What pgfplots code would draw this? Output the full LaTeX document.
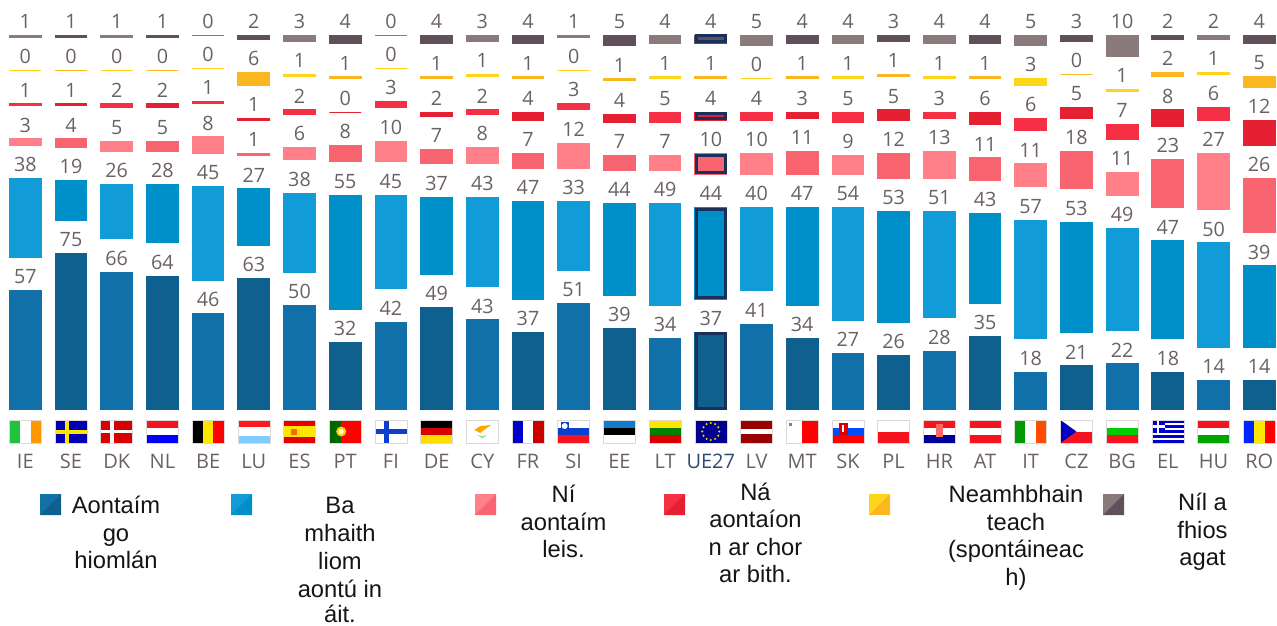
\documentclass[border=0pt]{standalone}
\usepackage{fontspec}
\usepackage{pgfplots}
\usepackage{pgfplotstable}
\pgfplotsset{compat=1.18}
\setmainfont{Open Sans}
\newfontfamily\legfont{Liberation Sans}
\definecolor{navyL}{HTML}{1170A8}\definecolor{navyD}{HTML}{0F5F8F}
\definecolor{blueL}{HTML}{119CD8}\definecolor{blueD}{HTML}{0090C9}
\definecolor{pinkL}{HTML}{FF8088}\definecolor{pinkD}{HTML}{F86570}
\definecolor{redL}{HTML}{F53045}\definecolor{redD}{HTML}{E62033}
\definecolor{yelL}{HTML}{FFD51A}\definecolor{yelD}{HTML}{FBB71F}
\definecolor{greyL}{HTML}{8A7A7C}\definecolor{greyD}{HTML}{5F5059}
\definecolor{ueNavy}{HTML}{1A2F5C}
\definecolor{lab}{HTML}{6B6164}
\definecolor{ueLab}{HTML}{2F4A72}
\definecolor{frame}{HTML}{DDD8D8}
\definecolor{fRed}{HTML}{F5141E}\definecolor{fBlue}{HTML}{0B3FCC}
\definecolor{fGreen}{HTML}{1FC43C}\definecolor{fYel}{HTML}{FFE600}
% light-shaded countries (every other one, starting with IE)
\pgfplotstableread{
x  a  b  c  d  e  f
0  57 38 3  1  0  1
2  66 26 5  2  0  1
4  46 45 8  1  0  0
6  50 38 6  2  1  3
8  42 45 10 3  0  0
10 43 43 8  2  1  3
12 51 33 12 3  0  1
14 34 49 7  5  1  4
16 41 40 10 4  0  5
18 27 54 9  5  1  4
20 28 51 13 3  1  4
22 18 57 11 6  3  5
24 22 49 11 7  1  10
26 14 50 27 6  1  2
}\tblA
% dark-shaded countries (every other one, starting with SE)
\pgfplotstableread{
x  a  b  c  d  e  f
1  75 19 4  1  0  1
3  64 28 5  2  0  1
5  63 27 1  1  6  2
7  32 55 8  0  1  4
9  49 37 7  2  1  4
11 37 47 7  4  1  4
13 39 44 7  4  1  5
15 37 44 10 4  1  4
17 34 47 11 3  1  4
19 26 53 12 5  1  3
21 35 43 11 6  1  4
23 21 53 18 5  0  3
25 18 47 23 8  2  2
27 14 39 26 12 5  4
}\tblB
% EU-27 on its own, for the navy outline
\pgfplotstableread{
x  a  b  c  d  e  f
15 37 44 10 4  1  4
}\tblU
\pgfplotsset{
  base/.style={
    at={(0pt,-307.125pt)},anchor=south west,scale only axis,
    width=957.75pt,height=307.125pt,
    xmin=-0.5536,xmax=27.389,ymin=0,ymax=196.6,
    clip=false,axis line style={draw=none},tick style={draw=none},
    ytick=\empty,ybar stacked,stacked ignores zero=false,bar width=23.8pt,
    /pgf/number format/assume math mode=true,
    nodes near coords style={anchor=south,inner sep=0pt,yshift=4.8pt,text=lab,
      font=\fontsize{14.8}{16}\selectfont},
  },
}
\newcommand\seg[3]{\addplot[fill=#2,draw=#2,line width=0.75pt] table[x=x,y=#3] {#1};
  \addplot[draw=none,fill=none,nodes near coords,point meta=\thisrow{#3}] table[x=x,y expr=0] {#1};}
\newcommand\gap[1]{\addplot[draw=none,fill=none] table[x=x,y expr=15.94] {#1};}
\newcommand\stackall[2]{%
  \seg{#1}{navy#2}{a}\gap{#1}\seg{#1}{blue#2}{b}\gap{#1}\seg{#1}{pink#2}{c}\gap{#1}%
  \seg{#1}{red#2}{d}\gap{#1}\seg{#1}{yel#2}{e}\gap{#1}\seg{#1}{grey#2}{f}}
\newcommand\flag[2]{\begin{scope}[shift={({25.3+45.7*#1-16},420)}]#2\draw[frame,line width=0.4pt] (0,0) rectangle (32,23);\end{scope}}
\newcommand\fV[3]{\fill[#1] (0,0) rectangle (10.67,23);\fill[#2] (10.67,0) rectangle (21.33,23);\fill[#3] (21.33,0) rectangle (32,23);}
\newcommand\fH[3]{\fill[#1] (0,0) rectangle (32,7.67);\fill[#2] (0,7.67) rectangle (32,15.33);\fill[#3] (0,15.33) rectangle (32,23);}
\newcommand\legline[3]{\node[anchor=base,inner sep=0pt,text=black!92,font=\legfont\fontsize{17.8}{20}\selectfont] at (#1,#2) {#3};}
\newcommand\swatch[3]{\fill[#2] (#1,494) rectangle ({#1+21},515);\fill[#3] ({#1+21},494) -- ({#1+21},515) -- (#1,515) -- cycle;}
\begin{document}
\begin{tikzpicture}[x=0.75pt,y=-0.75pt]
\useasboundingbox (0,0) rectangle (1277,625);
\begin{axis}[base,
  xtick={0,...,27},
  xticklabels={IE,SE,DK,NL,BE,LU,ES,PT,FI,DE,CY,FR,SI,EE,LT,\textcolor{ueLab}{UE27},LV,MT,SK,PL,HR,AT,IT,CZ,BG,EL,HU,RO},
  xticklabel style={anchor=base,yshift=-44.2pt,text=lab,font=\fontsize{15}{16}\selectfont},
]
\stackall{\tblA}{L}
\end{axis}
\begin{axis}[base,xtick=\empty]
\stackall{\tblB}{D}
\end{axis}
\begin{axis}[base,xtick=\empty,bar width=22.1pt]
\addplot[draw=none,fill=none] table[x=x,y expr=0.72] {\tblU};
\addplot[draw=ueNavy,fill=none,line width=2.25pt] table[x=x,y expr=\thisrow{a}-1.44] {\tblU};
\addplot[draw=none,fill=none] table[x=x,y expr=17.38] {\tblU};
\addplot[draw=ueNavy,fill=none,line width=2.25pt] table[x=x,y expr=\thisrow{b}-1.44] {\tblU};
\addplot[draw=none,fill=none] table[x=x,y expr=17.38] {\tblU};
\addplot[draw=ueNavy,fill=none,line width=2.25pt] table[x=x,y expr=\thisrow{c}-1.44] {\tblU};
\addplot[draw=none,fill=none] table[x=x,y expr=17.38] {\tblU};
\addplot[draw=ueNavy,fill=none,line width=2.25pt] table[x=x,y expr=\thisrow{d}-1.44] {\tblU};
\addplot[draw=none,fill=none] table[x=x,y expr=17.38] {\tblU};
\addplot[draw=none,fill=none] table[x=x,y expr=\thisrow{e}-1.44] {\tblU};
\addplot[draw=none,fill=none] table[x=x,y expr=17.38] {\tblU};
\addplot[draw=ueNavy,fill=none,line width=2.25pt] table[x=x,y expr=\thisrow{f}-1.44] {\tblU};
\end{axis}
% flags
\flag{0}{\fV{fGreen}{white}{orange!80!yellow}}
\flag{1}{\fill[blue!70!black] (0,0) rectangle (32,23);\fill[fYel] (10,0) rectangle (14,23);\fill[fYel] (0,9.5) rectangle (32,13.5);}
\flag{2}{\fill[red!85!black] (0,0) rectangle (32,23);\fill[white] (9.5,0) rectangle (13,23);\fill[white] (0,10) rectangle (32,13);}
\flag{3}{\fH{fRed}{white}{blue}}
\flag{4}{\fV{black}{fYel}{red}}
\flag{5}{\fill[red!90!white] (0,0) rectangle (32,7);\fill[white] (0,7) rectangle (32,15.5);\fill[blue!40!cyan!50] (0,15.5) rectangle (32,23);}
\flag{6}{\fill[red!90!black] (0,0) rectangle (32,23);\fill[fYel] (0,6) rectangle (32,17);\fill[orange!80!red] (7,8.5) rectangle (13,15);}
\flag{7}{\fill[red] (0,0) rectangle (32,23);\fill[green!40!black] (0,0) rectangle (12,23);\fill[yellow!70!orange] (12,11.5) circle (5);\fill[white] (12,11.5) circle (2.5);}
\flag{8}{\fill[white] (0,0) rectangle (32,23);\fill[fBlue] (9,0) rectangle (14,23);\fill[fBlue] (0,9) rectangle (32,14);}
\flag{9}{\fH{black}{red!85!black}{yellow!80!orange}}
\flag{10}{\fill[white] (0,0) rectangle (32,23);\fill[orange!70!yellow] (8,10) -- (14,6) -- (25,5) -- (19,9) -- (14,13) -- cycle;\fill[green!50!gray!70] (11,15) -- (16,18) -- (21,15) -- (16,16.5) -- cycle;}
\flag{11}{\fV{blue!80!black}{white}{red!80!black}}
\flag{12}{\fH{white}{fBlue}{fRed}\fill[fBlue] (3,1.5) rectangle (11,10);\fill[white] (7,6) circle (3);}
\flag{13}{\fH{cyan!60!blue}{black}{white}}
\flag{14}{\fH{fYel}{green!50!black}{red!85!black}}
\flag{15}{\fill[blue!55!black] (0,0) rectangle (32,23);\foreach \a in {0,30,...,330}{\fill[yellow!80!orange] ({16+8.5*cos(\a)},{11.5+8.5*sin(\a)}) circle (1.1);}}
\flag{16}{\fill[red!60!black] (0,0) rectangle (32,23);\fill[white] (0,9.3) rectangle (32,13.5);}
\flag{17}{\fill[white] (0,0) rectangle (16,23);\fill[red] (16,0) rectangle (32,23);\fill[gray] (3,2.5) rectangle (6,5.5);}
\flag{18}{\fH{white}{blue!70!cyan}{red}\fill[red!85!black] (7,3) rectangle (16,15);\fill[white] (10.5,5) rectangle (12.5,12);}
\flag{19}{\fill[white] (0,0) rectangle (32,11.5);\fill[fRed] (0,11.5) rectangle (32,23);}
\flag{20}{\fH{fRed}{white}{blue!60!black}\fill[red!60!white] (12.5,3.5) rectangle (19.5,17);}
\flag{21}{\fH{fRed}{white}{fRed}}
\flag{22}{\fV{green!60!black}{white}{orange!60!red}}
\flag{23}{\fill[white] (0,0) rectangle (32,11.5);\fill[fRed] (0,11.5) rectangle (32,23);\fill[blue!75!black] (0,0) -- (16,11.5) -- (0,23) -- cycle;}
\flag{24}{\fH{white}{green!80!black}{fRed}}
\flag{25}{\fill[white] (0,0) rectangle (32,23);\foreach \k in {0,2,4,6,8}{\fill[blue!80!black] (0,{\k*2.556}) rectangle (32,{(\k+1)*2.556});}\fill[blue!80!black] (0,0) rectangle (12.8,12.8);\fill[white] (5,0) rectangle (7.6,12.8);\fill[white] (0,5.1) rectangle (12.8,7.7);}
\flag{26}{\fH{fRed}{white}{green!65!black}}
\flag{27}{\fV{blue!85!cyan}{fYel}{red}}
% legend
\swatch{40}{navyL}{navyD}
\swatch{231}{blueL}{blueD}
\swatch{475}{pinkL}{pinkD}
\swatch{664}{redL}{redD}
\swatch{869}{yelL}{yelD}
\swatch{1103}{greyL}{greyD}
\legline{116}{513}{Aontaím}\legline{116}{541}{go}\legline{116}{568}{hiomlán}
\legline{340}{513}{Ba}\legline{340}{541.5}{mhaith}\legline{340}{569}{liom}\legline{340}{597}{aontú in}\legline{340}{622.5}{áit.}
\legline{563.5}{502.5}{Ní}\legline{563.5}{530}{aontaím}\legline{563.5}{557.5}{leis.}
\legline{755.5}{500}{Ná}\legline{755.5}{527.5}{aontaíon}\legline{755.5}{555}{n ar chor}\legline{755.5}{582}{ar bith.}
\legline{1016}{502.5}{Neamhbhain}\legline{1016}{530}{teach}\legline{1016}{557}{(spontáineac}\legline{1016}{585}{h)}
\legline{1202.5}{510.5}{Níl a}\legline{1202.5}{538}{fhios}\legline{1202.5}{565}{agat}
\end{tikzpicture}
\end{document}
